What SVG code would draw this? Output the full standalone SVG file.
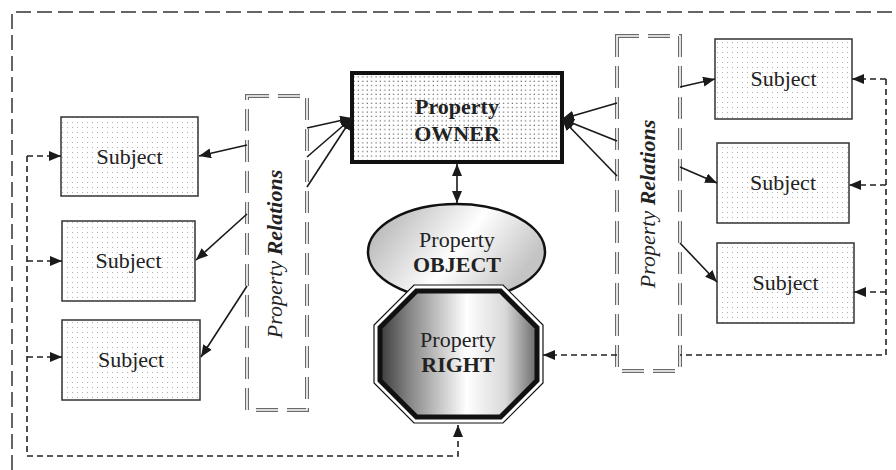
<svg xmlns="http://www.w3.org/2000/svg" width="896" height="470" viewBox="0 0 896 470">
<style>
.subj{fill:url(#dotsL);stroke:#333;stroke-width:1.5}
.stext{font-family:"Liberation Serif",serif;font-size:22px;fill:#222;text-anchor:middle}
.relo{fill:#fff;stroke:#6a6a6a;stroke-width:4;stroke-dasharray:22 9}
.reli{fill:none;stroke:#fff;stroke-width:1.6;stroke-dasharray:22 9}
.rtext{font-family:"Liberation Serif",serif;font-size:22px;font-style:italic;fill:#222;text-anchor:middle}
.solid{fill:none;stroke:#1a1a1a;stroke-width:1.6;marker-end:url(#ah)}
.dash{fill:none;stroke:#222;stroke-width:1.6;stroke-dasharray:6 4}
.frame{fill:none;stroke:#333;stroke-width:1.5;stroke-dasharray:15 6}
</style>
<defs>
<pattern id="dotsL" width="5" height="5" patternUnits="userSpaceOnUse">
<rect width="5" height="5" fill="#fff"/>
<rect x="2" y="2" width="1" height="1" fill="#b0b0b0"/>
</pattern>
<pattern id="dotsD" width="4.4" height="4.4" patternUnits="userSpaceOnUse">
<rect width="4.4" height="4.4" fill="#fff"/>
<rect x="1.5" y="1.5" width="1.1" height="1.1" fill="#444"/>
</pattern>
<linearGradient id="gEll" x1="0" y1="0" x2="1" y2="0.4">
<stop offset="0" stop-color="#a8a8a8"/>
<stop offset="0.6" stop-color="#fff"/>
<stop offset="1" stop-color="#c4c4c4"/>
</linearGradient>
<linearGradient id="gOct" x1="0" y1="0" x2="1" y2="0">
<stop offset="0" stop-color="#3c3c3c"/>
<stop offset="0.2" stop-color="#8a8a8a"/>
<stop offset="0.55" stop-color="#fff"/>
<stop offset="0.8" stop-color="#d8d8d8"/>
<stop offset="1" stop-color="#6a6a6a"/>
</linearGradient>
<marker id="ah" viewBox="0 0 12 10" refX="12" refY="5" markerWidth="12" markerHeight="10" markerUnits="userSpaceOnUse" orient="auto-start-reverse">
<path d="M0,0 L12,5 L0,10 z" fill="#1a1a1a"/>
</marker>
</defs>
<rect width="896" height="470" fill="#fff"/>
<path class="frame" d="M12,470 V12 H896"/>

<g id="rel-left">
<rect class="relo" x="247" y="96" width="60" height="314"/>
<rect class="reli" x="247" y="96" width="60" height="314"/>
<text class="rtext" transform="translate(282,254) rotate(-90)">Property <tspan font-weight="bold">Relations</tspan></text>
</g>
<g id="rel-right">
<rect class="relo" x="617" y="36" width="63" height="335"/>
<rect class="reli" x="617" y="36" width="63" height="335"/>
<text class="rtext" transform="translate(655,204) rotate(-90)">Property <tspan font-weight="bold">Relations</tspan></text>
</g>

<g id="subject-l1"><rect class="subj" x="61" y="117" width="137" height="79"/><text class="stext" x="129.5" y="164">Subject</text></g>
<g id="subject-l2"><rect class="subj" x="62" y="221" width="133" height="80"/><text class="stext" x="128.5" y="268">Subject</text></g>
<g id="subject-l3"><rect class="subj" x="62" y="320" width="138" height="80"/><text class="stext" x="131" y="367">Subject</text></g>
<g id="subject-r1"><rect class="subj" x="715" y="39" width="137" height="80"/><text class="stext" x="783.5" y="86">Subject</text></g>
<g id="subject-r2"><rect class="subj" x="717" y="143" width="132" height="80"/><text class="stext" x="783" y="190">Subject</text></g>
<g id="subject-r3"><rect class="subj" x="717" y="243" width="137" height="80"/><text class="stext" x="785.5" y="290">Subject</text></g>

<g id="owner">
<rect x="352" y="73" width="210" height="89" fill="url(#dotsD)" stroke="#111" stroke-width="4"/>
<text class="stext" x="457" y="114" font-weight="bold">Property</text>
<text class="stext" x="457" y="141" font-weight="bold">OWNER</text>
</g>

<g id="object">
<ellipse cx="456.5" cy="252" rx="88.5" ry="48" fill="url(#gEll)" stroke="#111" stroke-width="2.5"/>
<text class="stext" x="457" y="247">Property</text>
<text class="stext" x="457" y="272" font-weight="bold">OBJECT</text>
</g>

<g id="right">
<polygon points="414,285 503,285 543,325 543,383 503,423 414,423 374,383 374,325" fill="#fff" stroke="#111" stroke-width="1.2"/>
<polygon points="416.5,291 500.5,291 537,327.5 537,380.5 500.5,417 416.5,417 380,380.5 380,327.5" fill="url(#gOct)" stroke="#111" stroke-width="5"/>
<text class="stext" x="458" y="347">Property</text>
<text class="stext" x="458" y="372" font-weight="bold">RIGHT</text>
</g>

<g id="connectors">
<line class="solid" x1="457" y1="183" x2="457" y2="164" />
<line class="solid" x1="457" y1="183" x2="457" y2="203" />
<line class="solid" x1="307" y1="128" x2="352" y2="118"/>
<line class="solid" x1="307" y1="157" x2="352" y2="118"/>
<line class="solid" x1="307" y1="187" x2="352" y2="118"/>
<line class="solid" x1="617" y1="103" x2="562" y2="119"/>
<line class="solid" x1="617" y1="141" x2="562" y2="119"/>
<line class="solid" x1="617" y1="176" x2="562" y2="119"/>
<line class="solid" x1="247" y1="145" x2="199" y2="156"/>
<line class="solid" x1="247" y1="214" x2="196" y2="260"/>
<line class="solid" x1="247" y1="286" x2="201" y2="357"/>
<line class="solid" x1="680" y1="87" x2="715" y2="79"/>
<line class="solid" x1="680" y1="167" x2="717" y2="183"/>
<line class="solid" x1="680" y1="243" x2="717" y2="282"/>
<path class="dash" d="M27,156 V456 H458 V425" marker-end="url(#ah)"/>
<path class="dash" d="M27,156 H61" marker-end="url(#ah)"/>
<path class="dash" d="M27,261 H62" marker-end="url(#ah)"/>
<path class="dash" d="M27,357 H62" marker-end="url(#ah)"/>
<path class="dash" d="M886,79 V355 H680"/>
<path class="dash" d="M617,355 H543" marker-end="url(#ah)"/>
<path class="dash" d="M886,79 H852" marker-end="url(#ah)"/>
<path class="dash" d="M886,185 H849" marker-end="url(#ah)"/>
<path class="dash" d="M886,292 H854" marker-end="url(#ah)"/>
</g>
</svg>
